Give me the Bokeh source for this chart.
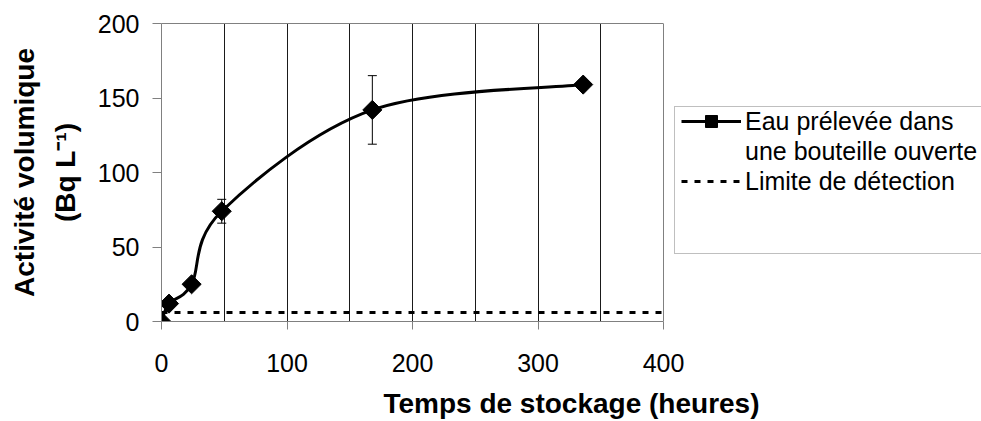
import numpy as np
from bokeh.plotting import figure
from bokeh.models import (Range1d, FixedTicker, Whisker, TeeHead, Legend,
                          LegendItem, ColumnDataSource, LinearAxis, Span)
from bokeh.embed import file_html
from bokeh.resources import INLINE

# ---- data ----
hours = [0, 6, 24, 48, 168, 336]
activity = [0, 12, 25, 74, 142, 159]
err_hours = [48, 168]
err_upper = [82, 165]
err_lower = [66, 119]
limit_x = [0, 400]
limit_y = [6, 6]
x_ticks = [0, 100, 200, 300, 400]
y_ticks = [0, 50, 100, 150, 200]
grid_x = [50, 100, 150, 200, 250, 300, 350]

label_series_1 = "Eau prélevée dans"
label_series_2 = "une bouteille ouverte"
label_limit = "Limite de détection"
x_title = "Temps de stockage (heures)"
y_title = "Activité volumique\n(Bq L⁻¹)"

FONT = "Liberation Sans"
X_MAX = 400
Y_MAX = 200

# layout: plot area spans 161..663 px for 0..400; frame continues to the
# right edge of the canvas so that the legend can sit beside the plot area
W, H = 981, 421
LEFT, AREA_RIGHT, TOP, BOTTOM = 161, 663, 23, 321
x_end = X_MAX * (W - LEFT) / (AREA_RIGHT - LEFT)

# smooth (Excel-like) curve: cubic Bezier segments through the data points
px = np.array(hours, dtype=float)
py = np.array(activity, dtype=float)
n = len(px)
prev_i = np.clip(np.arange(n - 1) - 1, 0, n - 1)
next_i = np.clip(np.arange(n - 1) + 2, 0, n - 1)
seg = dict(
    x0=px[:-1], y0=py[:-1], x1=px[1:], y1=py[1:],
    cx0=px[:-1] + (px[1:] - px[prev_i]) / 6.0,
    cy0=py[:-1] + (py[1:] - py[prev_i]) / 6.0,
    cx1=px[1:] - (px[next_i] - px[:-1]) / 6.0,
    cy1=py[1:] - (py[next_i] - py[:-1]) / 6.0,
)

p = figure(width=W, height=H, x_range=Range1d(0, x_end), y_range=Range1d(0, Y_MAX),
           output_backend="svg", toolbar_location=None,
           min_border_left=LEFT, min_border_right=0, min_border_top=TOP,
           min_border_bottom=H - BOTTOM)
p.background_fill_color = "white"
p.border_fill_color = "white"
p.outline_line_color = None

# axes
for ax in (p.xaxis[0], p.yaxis[0]):
    ax.axis_line_color = "#808080"
    ax.major_tick_line_color = "#808080"
    ax.minor_tick_line_color = None
    ax.major_tick_in = 0
    ax.major_label_text_font = FONT
    ax.major_label_text_font_size = "25px"
    ax.major_label_text_color = "black"
    ax.axis_label_text_font = FONT
    ax.axis_label_text_font_size = "28px"
    ax.axis_label_text_font_style = "bold"
    ax.axis_label_text_color = "black"

p.xaxis.ticker = FixedTicker(ticks=x_ticks)
p.xaxis.bounds = (0, X_MAX)
p.xaxis.major_tick_out = 8
p.xaxis.major_label_standoff = 24
p.xaxis.axis_label = x_title
p.xaxis.axis_label_standoff = 13

p.yaxis.ticker = FixedTicker(ticks=y_ticks)
p.yaxis.major_tick_out = 9
p.yaxis.major_label_standoff = 13
p.yaxis.axis_label = y_title
p.yaxis.axis_label_standoff = 14
p.yaxis.axis_label_text_line_height = 1.3

# top and right borders of the plot area
top_axis = LinearAxis(bounds=(0, X_MAX), ticker=FixedTicker(ticks=[]),
                      axis_line_color="#808080", major_tick_out=0, major_tick_in=0,
                      minor_tick_out=0, minor_tick_in=0,
                      major_label_text_font_size="0px")
p.add_layout(top_axis, "above")
p.add_layout(Span(location=X_MAX, dimension="height", line_color="#808080",
                  line_width=1))

p.xgrid.ticker = FixedTicker(ticks=grid_x)
p.xgrid.grid_line_color = "#1a1a1a"
p.xgrid.grid_line_width = 1
p.ygrid.visible = False

# detection limit
lim = p.line(limit_x, limit_y, line_color="black", line_width=3, line_dash="6 7")

# smoothed curve
curve = p.bezier(source=ColumnDataSource(seg), x0="x0", y0="y0", x1="x1", y1="y1",
                 cx0="cx0", cy0="cy0", cx1="cx1", cy1="cy1",
                 line_color="black", line_width=3)

# error bars
wsrc = ColumnDataSource(dict(base=err_hours, upper=err_upper, lower=err_lower))
p.add_layout(Whisker(source=wsrc, base="base", upper="upper", lower="lower",
                     line_color="black", line_width=1,
                     upper_head=TeeHead(size=9, line_color="black", line_width=1),
                     lower_head=TeeHead(size=9, line_color="black", line_width=1)))

# markers
marks = p.scatter(hours, activity, marker="square", angle=np.pi / 4, size=13.5,
                  fill_color="black", line_color="black")

# a renderer with no data: used for legend rows that show no glyph
blank = p.line(x=[], y=[], line_alpha=0)

BOX_LEFT, BOX_TOP, BOX_BOTTOM = 674, 106, 254
PAD = 7


def style(lg):
    lg.padding = PAD
    lg.margin = 0
    lg.glyph_width = 60
    lg.label_standoff = 4
    lg.label_width = 235
    lg.label_text_font = FONT
    lg.label_text_font_size = "25px"
    lg.label_text_color = "black"


# legend frame (drawn first)
box = Legend(items=[LegendItem(label=" ", renderers=[blank])],
             location=(BOX_LEFT - LEFT, BOTTOM - BOX_BOTTOM))
style(box)
box.glyph_height = 132
box.spacing = 0
box.border_line_color = "#808080"
box.border_line_width = 1
box.background_fill_color = "white"
box.background_fill_alpha = 1
p.add_layout(box, "center")

# legend entries (no border, hence no padding: offset by PAD instead)
entries = Legend(items=[
    LegendItem(label=label_series_1, renderers=[curve, marks]),
    LegendItem(label=label_series_2, renderers=[blank]),
    LegendItem(label=label_limit, renderers=[lim]),
], location=(BOX_LEFT - LEFT + PAD, 125))
style(entries)
entries.glyph_height = 30
entries.spacing = -9
entries.border_line_color = None
entries.background_fill_alpha = 0
p.add_layout(entries, "center")

open("out.html", "w").write(file_html(p, INLINE))
